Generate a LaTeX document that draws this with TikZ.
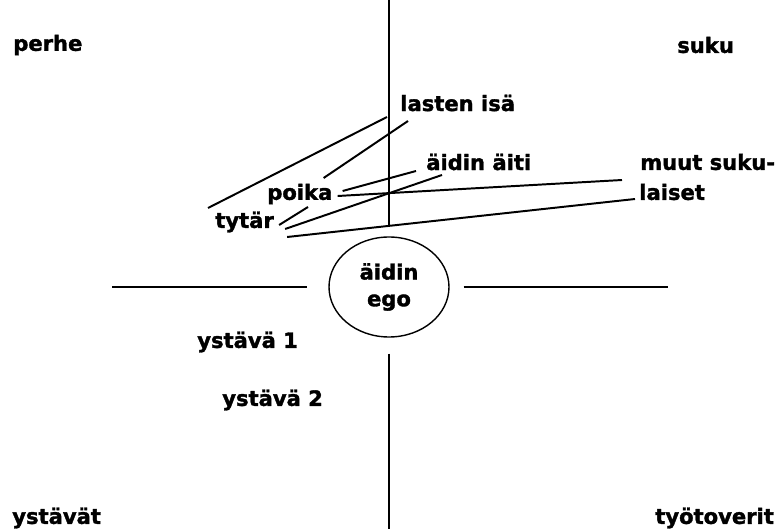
\documentclass[tikz,border=0pt]{standalone}
\usepackage{fontspec}
\setmainfont{DejaVu Sans}[BoldFont={DejaVu Sans Bold}, BoldFeatures={FakeBold=1.6}]
\usetikzlibrary{positioning, shapes.geometric}

\begin{document}
\begin{tikzpicture}[
        sana/.style={anchor=west, inner sep=0pt, font=\bfseries\fontsize{15}{17}\selectfont},
        viiva/.style={line width=1.4pt}
    ]
            \useasboundingbox (0, 0) rectangle (19.5, -13.225);

            % nelikentan otsikot
            \node [sana] (perhe) at (0.325, -1.125) {perhe};
            \node [sana] (suku) at (16.925, -1.125) {suku};
            \node [sana] (ystavat) at (0.3, -12.95) {ystävät};
            \node [sana] (tyotoverit) at (16.375, -12.95) {työtoverit};

            \node [draw, ellipse, line width=1pt, minimum width=3cm, minimum height=2.5cm, inner sep=0pt, align=center, font=\bfseries\fontsize{15}{19}\selectfont] (ego) at (9.725, -7.175) {äidin\\ego};

            \node [sana] (lasten) at (10.0, -2.575) {lasten isä};
            \node [sana] (aiti) at (10.65, -4.05) {äidin äiti};
            \node [sana] (muut) at (16.0, -4.05) {muut suku-};
            \node [sana] (laiset) at (15.975, -4.8) {laiset};
            \node [sana] (poika) at (6.675, -4.85) {poika};
            \node [sana] (tytar) at (5.375, -5.55) {tytär};
            \node [sana] (ystava1) at (4.925, -8.55) {ystävä 1};
            \node [sana] (ystava2) at (5.55, -10.0) {ystävä 2};

            % akselit
            \coordinate (ylos) at (9.725, 0);
            \coordinate (alas) at (9.725, -13.225);
            \coordinate (vasen) at (2.8, -7.175);
            \coordinate (oikea) at (16.7, -7.175);

            \draw [viiva] (ylos) -- ([yshift=0.275cm]ego.north);
            \draw [viiva] ([yshift=-0.4cm]ego.south) -- (alas);
            \draw [viiva] (vasen) -- ([xshift=-0.525cm]ego.west);
            \draw [viiva] ([xshift=0.35cm]ego.east) -- (oikea);

            % suhteet
            \draw [viiva] ([xshift=-0.175cm, yshift=0.35cm]tytar.west) -- ([xshift=-0.325cm, yshift=-0.35cm]lasten.west);
            \draw [viiva] ([xshift=-0.225cm, yshift=0.4cm]poika.east) -- ([xshift=0.2cm, yshift=-0.45cm]lasten.west);
            \draw [viiva] ([xshift=0.25cm, yshift=0.075cm]poika.east) -- ([xshift=-0.25cm, yshift=-0.225cm]aiti.west);
            \draw [viiva] ([xshift=0.125cm, yshift=-0.05cm]poika.east) -- ([xshift=-0.425cm, yshift=0.3cm]laiset.west);
            \draw [viiva] ([xshift=0.125cm, yshift=-0.075cm]tytar.east) -- ([xshift=1.025cm, yshift=-0.325cm]poika.west);
            \draw [viiva] ([xshift=0.275cm, yshift=-0.175cm]tytar.east) -- ([xshift=0.4cm, yshift=-0.325cm]aiti.west);
            \draw [viiva] ([xshift=0.325cm, yshift=-0.375cm]tytar.east) -- ([xshift=-0.1cm, yshift=-0.175cm]laiset.west);
        \end{tikzpicture}
\end{document}
